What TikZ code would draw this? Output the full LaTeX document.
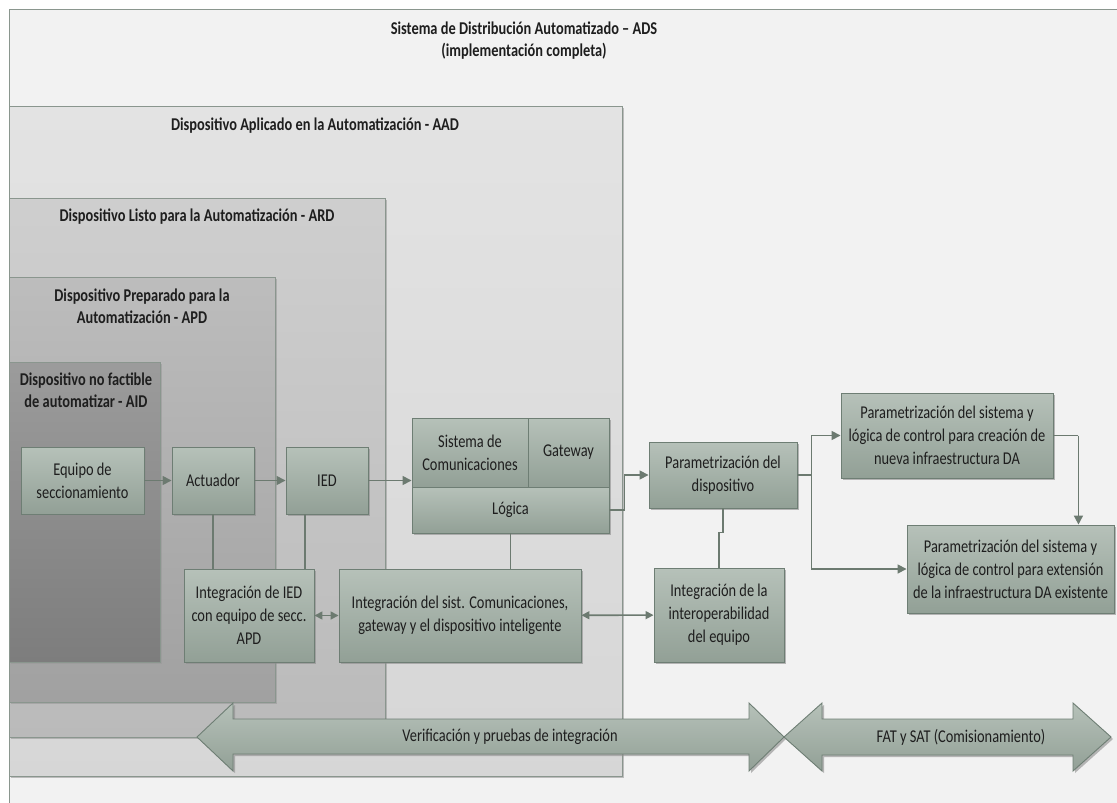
\documentclass[tikz,border=0pt]{standalone}
\usepackage{fontspec}
\setmainfont{Carlito}[FakeStretch=0.8]
\usepackage{tikz}
\usetikzlibrary{shapes,arrows.meta,positioning,calc,shadows}
\definecolor{fondoads}{RGB}{242,242,242}
\definecolor{zonaborde}{RGB}{138,150,142}
\definecolor{bloquearriba}{RGB}{182,193,185}
\definecolor{bloqueabajo}{RGB}{146,160,150}
\definecolor{bloqueborde}{RGB}{110,126,116}
\definecolor{linea}{RGB}{108,122,112}
\definecolor{texto}{RGB}{30,30,30}

\begin{document}
\begin{tikzpicture}[x=1pt,y=-1pt,
    zona/.style={draw=zonaborde, line width=0.9pt,
        drop shadow={shadow xshift=1.5pt,shadow yshift=-1.5pt,fill=black!40,opacity=0.6}},
    titulo/.style={font=\fontsize{18}{22}\selectfont\bfseries, align=center, text=texto},
    bloque/.style={draw=bloqueborde, line width=0.9pt, top color=bloquearriba, bottom color=bloqueabajo,
        align=center, font=\fontsize{18}{23}\selectfont, text=texto, inner sep=2pt,
        drop shadow={shadow xshift=2pt,shadow yshift=-2pt,fill=black!45,opacity=0.6}},
    conector/.style={draw=linea, line width=1.6pt},
    punta/.style={-{Triangle[length=9pt,width=9pt]}},
    dospuntas/.style={{Triangle[length=8pt,width=8pt]}-{Triangle[length=8pt,width=8pt]}},
    granflecha/.style={draw=bloqueborde, line width=0.9pt, top color=bloquearriba, bottom color=bloqueabajo,
        drop shadow={shadow xshift=2pt,shadow yshift=-2pt,fill=black!45,opacity=0.6}},
    etiqueta/.style={font=\fontsize{18}{23}\selectfont, text=texto}
]
    \useasboundingbox (0,0) rectangle (1117,803);

    % Zonas anidadas
    \draw[draw=zonaborde, line width=0.9pt, fill=fondoads] (9,9) rectangle (1140,830);
    \node[titulo] (tads) at (524,41) {Sistema de Distribución Automatizado – ADS\\(implementación completa)};

    \draw[zona, top color=black!11, bottom color=black!16] (9,106) rectangle (622,776);
    \node[titulo] (taad) at (315,126) {Dispositivo Aplicado en la Automatización - AAD};

    \draw[zona, top color=black!19, bottom color=black!27] (9,198) rectangle (385,737);
    \node[titulo] (tard) at (197,217) {Dispositivo Listo para la Automatización - ARD};

    \draw[zona, top color=black!26, bottom color=black!37] (9,277) rectangle (275,702);
    \node[titulo] (tapd) at (142,306) {Dispositivo Preparado para la\\Automatización - APD};

    \draw[zona, top color=black!39, bottom color=black!51] (9,362) rectangle (160,662);
    \node[titulo] (taid) at (86,390) {Dispositivo no factible\\de automatizar - AID};

    % Bloques
    \node[bloque, minimum width=123pt, minimum height=67pt] (equipo) at (82.5,480.5) {Equipo de\\seccionamiento};
    \node[bloque, minimum width=82pt, minimum height=67pt] (actuador) at (213,480.5) {Actuador};
    \node[bloque, minimum width=82pt, minimum height=67pt] (ied) at (327,480.5) {IED};
    \node[bloque, minimum width=116pt, minimum height=69pt] (sistcom) at (470,452.5) {Sistema de\\Comunicaciones};
    \node[bloque, minimum width=81pt, minimum height=69pt] (gateway) at (568.5,452.5) {Gateway};
    \node[bloque, minimum width=197pt, minimum height=46pt] (logica) at (510.5,510) {Lógica};
    \node[bloque, minimum width=148pt, minimum height=66pt] (param) at (723,475) {Parametrización del\\dispositivo};
    \node[bloque, minimum width=130pt, minimum height=93pt] (integied) at (249,615.5) {Integración de IED\\con equipo de secc.\\APD};
    \node[bloque, minimum width=242pt, minimum height=93pt] (integsist) at (460,615.5) {Integración del sist. Comunicaciones,\\gateway y el dispositivo inteligente};
    \node[bloque, minimum width=130pt, minimum height=94pt] (interop) at (719,615) {Integración de la\\interoperabilidad\\del equipo};
    \node[bloque, minimum width=212pt, minimum height=85pt] (nueva) at (947,435.5) {Parametrización del sistema y\\lógica de control para creación de\\nueva infraestructura DA};
    \node[bloque, minimum width=207pt, minimum height=88pt] (extension) at (1010.5,569) {Parametrización del sistema y\\lógica de control para extensión\\de la infraestructura DA existente};

    % Conectores
    \draw[conector, punta] (equipo) -- (actuador);
    \draw[conector, punta] (actuador) -- (ied);
    \draw[conector, punta] (ied) -- (ied -| sistcom.west);
    \draw[conector] (actuador.south) -- (actuador.south |- integied.north);
    \draw[conector] ([xshift=-22pt]ied.south) -- ([xshift=-22pt]ied.south |- integied.north);
    \draw[conector] (logica.south) -- (logica.south |- integsist.north);
    \draw[conector, dospuntas] (integied) -- (integsist);
    \draw[conector, dospuntas] (integsist) -- (interop);
    \draw[conector, punta] (logica.east) -- ++(15,0) |- (param.west);
    \draw[conector] (param.south) -- ++(0,24) -| (interop.north);
    \draw[conector, punta] (param.east) -- ++(14,0) |- (nueva.west);
    \draw[conector, punta] (param.east) -- ++(14,0) |- (extension.west);
    \draw[conector] (nueva.east) -- ++(25,0) coordinate (baja);
    \draw[conector, punta] (baja) -- (baja |- extension.north);

    % Flechas de fases
    \draw[granflecha] (197,737) -- (233,703) -- (233,719) -- (749,719) -- (749,703) -- (784,737)
        -- (749,771) -- (749,754) -- (233,754) -- (233,771) -- cycle;
    \node[etiqueta] (verif) at (510,737) {Verificación y pruebas de integración};
    \draw[granflecha] (784,737) -- (822,703) -- (822,719) -- (1073,719) -- (1073,703) -- (1111,737)
        -- (1073,771) -- (1073,755) -- (822,755) -- (822,771) -- cycle;
    \node[etiqueta] (fat) at (961,737) {FAT y SAT (Comisionamiento)};
\end{tikzpicture}
\end{document}
